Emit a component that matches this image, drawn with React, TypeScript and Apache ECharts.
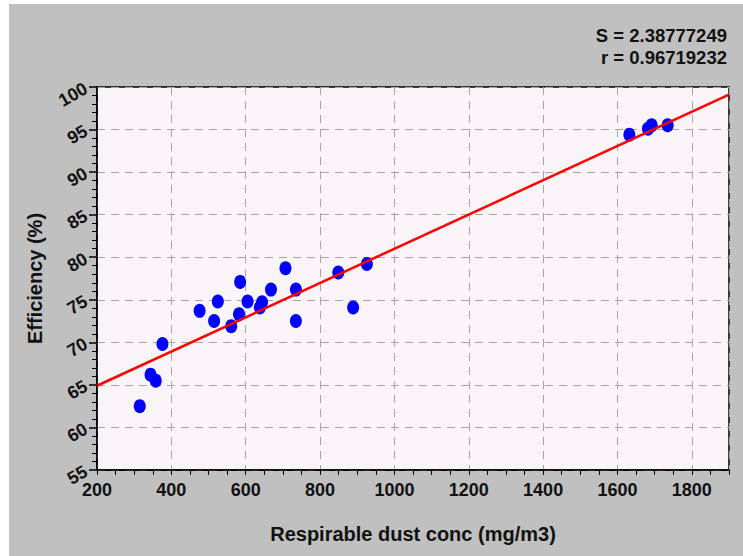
import React, { useEffect, useRef } from "react";
import * as echarts from "echarts";

const dustConc = [315, 344, 358, 376, 476, 515, 525, 561, 582, 585, 605, 638, 644, 668, 707, 735, 735, 849, 889, 926, 1632, 1682, 1692, 1735];
const efficiency = [62.5, 66.2, 65.5, 69.8, 73.7, 72.5, 74.8, 71.9, 73.3, 77.1, 74.8, 74.1, 74.7, 76.2, 78.7, 76.2, 72.5, 78.2, 74.1, 79.2, 94.4, 95.1, 95.5, 95.5];
const fitX = [200, 1900];
const fitY = [64.9, 99.1];
const statLines = ["S = 2.38777249", "r = 0.96719232"];
const xName = "Respirable dust conc (mg/m3)";
const yName = "Efficiency (%)";

const FONT = "Liberation Sans, Arial, sans-serif";

export default function App() {
  const ref = useRef<HTMLDivElement>(null);
  useEffect(() => {
    if (!ref.current) return;
    const chart = echarts.init(ref.current, undefined, { renderer: "svg" });
    const points = dustConc.map((x, i) => [x, efficiency[i]]);
    const line = fitX.map((x, i) => [x, fitY[i]]);
    chart.setOption({
      animation: false,
      backgroundColor: "#c0c0c0",
      grid: {
        left: 88,
        top: 83,
        right: 14,
        bottom: 86,
        show: true,
        backgroundColor: "#f8f4f8",
        borderColor: "#000",
        borderWidth: 1.5,
      },
      graphic: statLines.map((t, i) => ({
        type: "text",
        right: 16,
        top: 22 + i * 22,
        style: { text: t, font: `bold 18.5px ${FONT}`, fill: "#111", textAlign: "right" },
      })),
      xAxis: {
        type: "value",
        min: 200,
        max: 1900,
        interval: 200,
        name: xName,
        nameLocation: "middle",
        nameGap: 54,
        nameTextStyle: { fontFamily: FONT, fontWeight: "bold", fontSize: 20, color: "#111" },
        axisLine: { show: true, lineStyle: { color: "#000", width: 1.5 } },
        axisTick: { show: true, length: 5, lineStyle: { color: "#000", width: 1 } },
        minorTick: { show: true, splitNumber: 4, length: 5, lineStyle: { color: "#000", width: 1 } },
        axisLabel: {
          showMaxLabel: false,
          formatter: (v: number) => String(v),
          fontFamily: FONT,
          fontWeight: "bold",
          fontSize: 18,
          color: "#111",
          margin: 11,
        },
        splitLine: { show: true, lineStyle: { color: "#a8a4a8", type: [8, 6], width: 1 } },
      },
      yAxis: {
        type: "value",
        min: 55,
        max: 100,
        interval: 5,
        name: yName,
        nameLocation: "middle",
        nameGap: 50,
        nameTextStyle: { fontFamily: FONT, fontWeight: "bold", fontSize: 20, color: "#111" },
        axisLine: { show: true, lineStyle: { color: "#000", width: 1.5 } },
        axisTick: { show: true, length: 8, lineStyle: { color: "#000", width: 1.5 } },
        minorTick: { show: true, splitNumber: 5, length: 5, lineStyle: { color: "#000", width: 1 } },
        axisLabel: { fontFamily: FONT, fontWeight: "bold", fontSize: 18, color: "#111", rotate: 30, margin: 11 },
        splitLine: { show: true, lineStyle: { color: "#a8a4a8", type: [8, 6], width: 1 } },
      },
      series: [
        {
          type: "scatter",
          data: points,
          symbol: "circle",
          symbolSize: [12, 14],
          itemStyle: { color: "#0000ff", opacity: 1 },
          z: 2,
        },
        {
          type: "line",
          data: line,
          showSymbol: false,
          symbol: "none",
          lineStyle: { color: "#ff0000", width: 2.5 },
          z: 3,
        },
      ],
    });
    return () => chart.dispose();
  }, []);
  return (
    <div
      ref={ref}
      style={{ position: "absolute", left: 9, top: 4, width: 734, height: 552 }}
    />
  );
}
